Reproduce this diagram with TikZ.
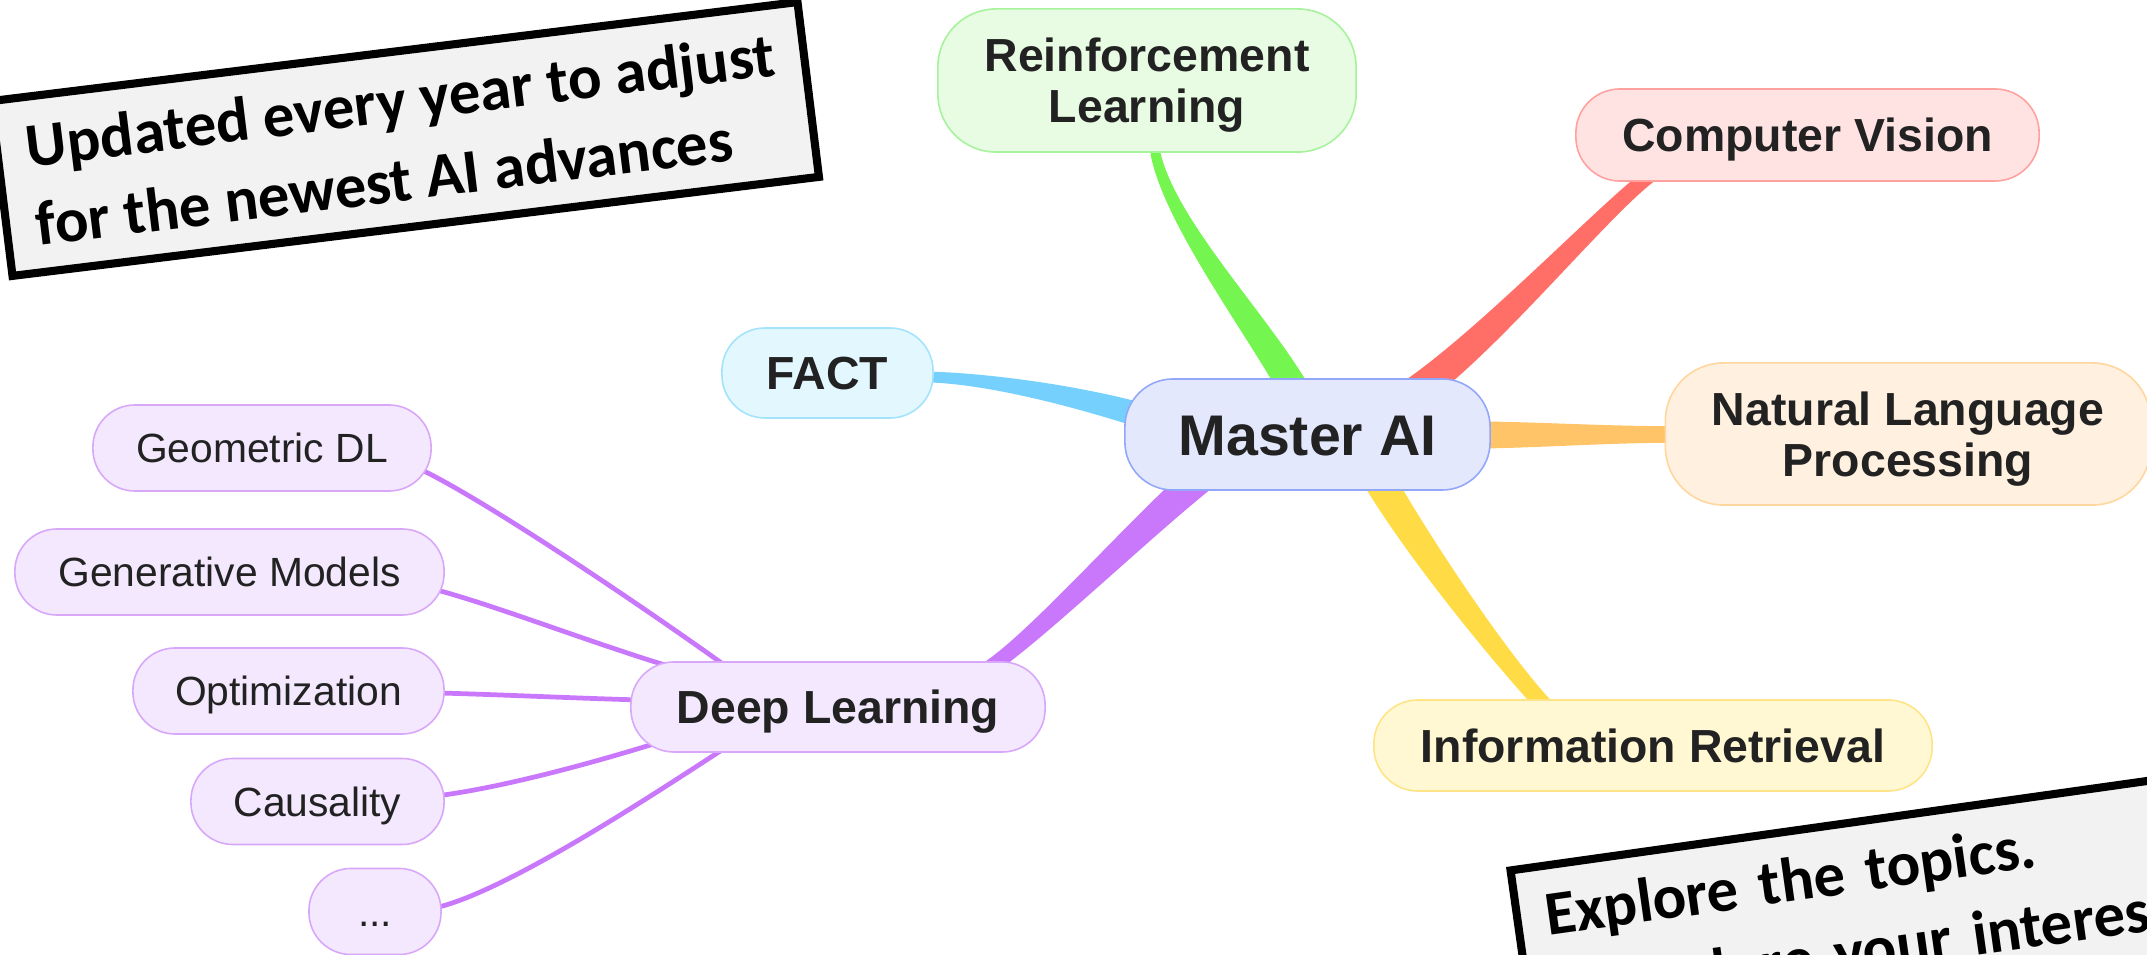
\documentclass[tikz,border=0pt]{standalone}
\usepackage{fontspec}
\setmainfont{Liberation Sans}
\newfontfamily\notefont{Carlito}
\usetikzlibrary{calc,backgrounds}

\definecolor{txt}{HTML}{222222}
\definecolor{masterbg}{HTML}{E3E8FD}\definecolor{masterbd}{HTML}{92A7F9}
\definecolor{rlbg}{HTML}{E7FCE3}\definecolor{rlbd}{HTML}{A6F39C}\definecolor{rlline}{HTML}{74F54F}
\definecolor{cvbg}{HTML}{FFE3E3}\definecolor{cvbd}{HTML}{FFA19E}\definecolor{cvline}{HTML}{FF6F68}
\definecolor{nlpbg}{HTML}{FFF0DF}\definecolor{nlpbd}{HTML}{FFD69E}\definecolor{nlpline}{HTML}{FFC467}
\definecolor{irbg}{HTML}{FFF8D2}\definecolor{irbd}{HTML}{FFE487}\definecolor{irline}{HTML}{FFDC46}
\definecolor{factbg}{HTML}{E2F7FE}\definecolor{factbd}{HTML}{A3E3FB}\definecolor{factline}{HTML}{76D0FD}
\definecolor{dlbg}{HTML}{F3E8FE}\definecolor{dlbd}{HTML}{D8A7FA}\definecolor{dlline}{HTML}{C978FB}
\definecolor{notebg}{HTML}{F2F2F2}

% tapered branch: #1 start, #2 end, #3 #4 controls, #5 #6 half widths, #7 colour
\newcommand{\mmtaper}[7]{%
  \fill[#7] let \p1=#1, \p2=#2, \p3=#3, \p4=#4,
    \n1={atan2(\y2-\y1,\x2-\x1)+90} in
    ({\x1+#5*cos(\n1)},{\y1+#5*sin(\n1)})
    .. controls ({\x3+#5*cos(\n1)},{\y3+#5*sin(\n1)}) and ({\x4+#6*cos(\n1)},{\y4+#6*sin(\n1)})
    .. ({\x2+#6*cos(\n1)},{\y2+#6*sin(\n1)})
    -- ({\x2-#6*cos(\n1)},{\y2-#6*sin(\n1)})
    .. controls ({\x4-#6*cos(\n1)},{\y4-#6*sin(\n1)}) and ({\x3-#5*cos(\n1)},{\y3-#5*sin(\n1)})
    .. ({\x1-#5*cos(\n1)},{\y1-#5*sin(\n1)}) -- cycle;}

\tikzset{
  mm/.style={draw, line width=0.45pt, rounded corners=#1, inner sep=0pt, text=txt, align=center, text depth=0pt},
  lvl1/.style={font=\fontsize{13.2}{14.4}\selectfont\bfseries},
  leaf/.style={mm=0.42cm, draw=dlbd, fill=dlbg, minimum height=0.86cm, text height=8.3pt,
    font=\fontsize{11.6}{13}\selectfont},
  note/.style={draw=black, line width=2.3pt, fill=notebg, text=black, align=left,
    font=\notefont\bfseries\fontsize{17.8}{22.5}\selectfont},
  twig/.style={draw=dlline, line width=1.35pt},
}

\begin{document}
\begin{tikzpicture}[x=0.01cm,y=-0.01cm]
\useasboundingbox (0,0) rectangle (2147,955);

% central node
\node[mm=0.48cm, draw=masterbd, fill=masterbg, minimum width=3.65cm, minimum height=1.11cm,
  text height=11.7pt, font=\fontsize{16.3}{18}\selectfont\bfseries] (master) at (1307.5,434.5) {Master AI};

% main topics
\node[mm=0.58cm, lvl1, draw=rlbd, fill=rlbg, minimum width=4.18cm, minimum height=1.43cm] (rl) at (1147,80.5) {Reinforcement\\Learning};
\node[mm=0.44cm, lvl1, draw=cvbd, fill=cvbg, minimum width=4.63cm, minimum height=0.92cm, text height=9.45pt] (cv) at (1807.5,135) {Computer Vision};
\node[mm=0.58cm, lvl1, draw=nlpbd, fill=nlpbg, minimum width=4.85cm, minimum height=1.42cm] (nlp) at (1908,434) {Natural Language\\Processing};
\node[mm=0.44cm, lvl1, draw=irbd, fill=irbg, minimum width=5.58cm, minimum height=0.91cm, text height=9.45pt] (ir) at (1653,745.5) {Information Retrieval};
\node[mm=0.43cm, lvl1, draw=factbd, fill=factbg, minimum width=2.11cm, minimum height=0.90cm, text height=9.45pt] (fact) at (827.5,373) {FACT};
\node[mm=0.43cm, lvl1, draw=dlbd, fill=dlbg, minimum width=4.14cm, minimum height=0.90cm, text height=9.45pt] (dl) at (838,707) {Deep Learning};

% deep learning leaves
\node[leaf, minimum width=3.38cm] (geo) at (262,448) {Geometric DL};
\node[leaf, minimum width=4.29cm] (gen) at (229.5,572) {Generative Models};
\node[leaf, minimum width=3.11cm] (opt) at (288.5,691) {Optimization};
\node[leaf, minimum width=2.53cm] (cau) at (317.5,801.5) {Causality};
\node[leaf, minimum width=1.32cm] (more) at (375,911.5) {...};

% notes
\node[note, rotate=7, minimum width=8.12cm, minimum height=1.76cm] (note1) at (405,139)
  {Updated every year to adjust\\for the newest AI advances};
\node[note, rotate=8, anchor=north west, text width=7cm, inner xsep=0.28cm, inner ysep=0.26cm] (note2) at (1506,867)
  {Explore the topics.\\\& explore your interests.};

\begin{scope}[on background layer]
  \mmtaper{($(master.center)+(-7.5,-34.5)$)}{($(rl.south)+(8,-2)$)}{(1262,329)}{(1168,222)}{4.2pt}{1.5pt}{rlline}
  \mmtaper{($(master.center)+(87.5,-29.5)$)}{($(cv.south)+(-159.5,-5)$)}{(1470,362)}{(1595,218)}{4.4pt}{2.1pt}{cvline}
  \mmtaper{($(master.center)+(152.5,0.5)$)}{($(nlp.west)+(9.5,0.5)$)}{(1530,435)}{(1600,434.5)}{3.9pt}{2.36pt}{nlpline}
  \mmtaper{($(master.center)+(57.5,20.5)$)}{($(ir.north)+(-110,5)$)}{(1405,530)}{(1495,652)}{4.55pt}{2.4pt}{irline}
  \mmtaper{($(master.center)+(-127.5,-6.5)$)}{($(fact.east)+(-5,4)$)}{(1110,403)}{(1000,379)}{3.7pt}{1.56pt}{factline}
  \mmtaper{($(master.center)+(-80.5,22.5)$)}{($(dl.north)+(152,6)$)}{(1172,494)}{(1045,630)}{4.55pt}{2.1pt}{dlline}

  \draw[twig] ($(geo.east)+(-10,22)$) .. controls (494,505) and (670,625) .. ($(dl.center)+(-93,-27)$);
  \draw[twig] ($(gen.east)+(-8,18)$) .. controls (500,607) and (600,646) .. ($(dl.center)+(-163,-39)$);
  \draw[twig] ($(opt.east)+(-5,2)$) .. controls (510,695) and (570,698) .. ($(dl.center)+(-198,-7)$);
  \draw[twig] ($(cau.east)+(-5,-6)$) .. controls (505,787) and (596,762) .. ($(dl.center)+(-178,35)$);
  \draw[twig] ($(more.east)+(-5,-4)$) .. controls (510,890) and (660,790) .. ($(dl.center)+(-113,41)$);
\end{scope}
\end{tikzpicture}
\end{document}
